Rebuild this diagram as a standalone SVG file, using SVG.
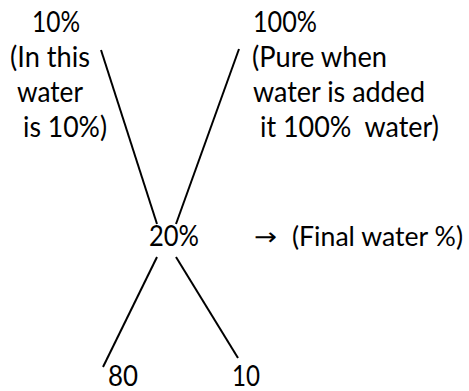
<svg xmlns="http://www.w3.org/2000/svg" width="469" height="391" viewBox="0 0 469 391">
<style>
text{font-family:Lato,"Open Sans","Liberation Sans",sans-serif;font-size:28px;fill:#000}
.ln{stroke:#000;stroke-width:2;fill:none;stroke-linecap:butt}
</style>
<rect width="469" height="391" fill="#fff"/>
<g id="left-top">
<text x="32" y="32" textLength="48" lengthAdjust="spacingAndGlyphs">10%</text>
<text x="10" y="67" textLength="80" lengthAdjust="spacingAndGlyphs">(In this</text>
<text x="17" y="102" textLength="66" lengthAdjust="spacingAndGlyphs">water</text>
<text x="23" y="137" textLength="84" lengthAdjust="spacingAndGlyphs">is 10%)</text>
</g>
<g id="right-top">
<text x="253" y="32" textLength="64" lengthAdjust="spacingAndGlyphs">100%</text>
<text x="252" y="67" textLength="135" lengthAdjust="spacingAndGlyphs">(Pure when</text>
<text x="253" y="102" textLength="172" lengthAdjust="spacingAndGlyphs">water is added</text>
<text x="260" y="137" textLength="179" lengthAdjust="spacingAndGlyphs" xml:space="preserve">it 100%  water)</text>
</g>
<g id="center">
<text x="149" y="246" textLength="50" lengthAdjust="spacingAndGlyphs">20%</text>
</g>
<g id="note">
<text x="254" y="245" textLength="23" lengthAdjust="spacingAndGlyphs" style="font-family:'DejaVu Sans',sans-serif;font-size:24px">→</text>
<text x="292" y="246" textLength="171" lengthAdjust="spacingAndGlyphs" style="font-size:26px">(Final water %)</text>
</g>
<g id="left-bottom">
<text x="108" y="386" textLength="30" lengthAdjust="spacingAndGlyphs">80</text>
</g>
<g id="right-bottom">
<text x="232" y="386" textLength="28" lengthAdjust="spacingAndGlyphs">10</text>
</g>
<g id="connectors">
<line class="ln" x1="101" y1="50" x2="157" y2="224"/>
<line class="ln" x1="239" y1="49" x2="176" y2="224"/>
<line class="ln" x1="157" y1="257" x2="103" y2="367"/>
<line class="ln" x1="176" y1="257" x2="238" y2="358"/>
</g>
</svg>
